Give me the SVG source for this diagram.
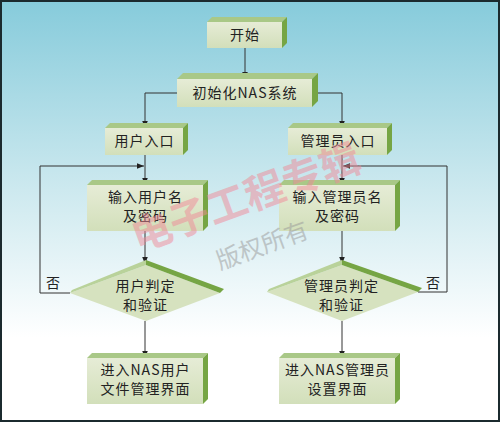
<svg xmlns="http://www.w3.org/2000/svg" width="500" height="422" viewBox="0 0 500 422">
<defs>
<linearGradient id="bg" x1="0" y1="0" x2="0" y2="1">
<stop offset="0" stop-color="#86cbdb"/>
<stop offset="0.45" stop-color="#cde9ef"/>
<stop offset="0.8" stop-color="#ffffff"/>
</linearGradient>
<linearGradient id="front" x1="0" y1="0" x2="0" y2="1">
<stop offset="0" stop-color="#e6ecd6"/>
<stop offset="1" stop-color="#d2dfba"/>
</linearGradient>
<marker id="ah" viewBox="0 0 10 10" refX="10" refY="5" markerWidth="7" markerHeight="7" orient="auto" markerUnits="userSpaceOnUse">
<path d="M0,1 L10,5 L0,9 z" fill="#222"/>
</marker>
<style>
.fr{fill:url(#front)}
.tp{fill:#a9c887}
.sd{fill:#76a544}
.dk{fill:#76a544}
.lt{fill:#b9d29a}
.t{font-family:"Noto Sans CJK SC","Noto Sans",sans-serif;font-size:14px;letter-spacing:1px;fill:#222;text-anchor:middle}
.c{fill:none;stroke:#333;stroke-width:1}
.wm{font-family:"Noto Sans CJK SC",sans-serif;font-weight:bold;font-size:40px;fill:#f08a98;opacity:0.5}
.wm2{font-family:"Noto Sans CJK SC",sans-serif;font-size:24px;fill:#999;opacity:0.5}
</style>
</defs>
<rect x="0" y="0" width="500" height="422" fill="url(#bg)"/>
<g id="connectors">
<path class="c" d="M245,48 V79" marker-end="url(#ah)"/>
<path class="c" d="M177,93 H145 V128" marker-end="url(#ah)"/>
<path class="c" d="M312,93 H342 V128" marker-end="url(#ah)"/>
<path class="c" d="M145,155 V185" marker-end="url(#ah)"/>
<path class="c" d="M342,155 V185" marker-end="url(#ah)"/>
<path class="c" d="M145,231 V264" marker-end="url(#ah)"/>
<path class="c" d="M342,231 V264" marker-end="url(#ah)"/>
<path class="c" d="M145,321 V358" marker-end="url(#ah)"/>
<path class="c" d="M342,321 V358" marker-end="url(#ah)"/>
<path class="c" d="M70,293 H40 V166 H144" marker-end="url(#ah)"/>
<path class="c" d="M418,292 H447 V166 H343" marker-end="url(#ah)"/>
</g>
<g id="start">
<polygon class="tp" points="207,22 212,17 287,17 282,22"/>
<polygon class="sd" points="282,22 287,17 287,43 282,48"/>
<rect class="fr" x="207" y="22" width="75" height="26"/>
<text class="t" x="245" y="40">开始</text>
</g>
<g id="init">
<polygon class="tp" points="177,79 183,73 318,73 312,79"/>
<polygon class="sd" points="312,79 318,73 318,101 312,107"/>
<rect class="fr" x="177" y="79" width="135" height="28"/>
<text class="t" x="245" y="98">初始化NAS系统</text>
</g>
<g id="user-entry">
<polygon class="tp" points="105,128 110,123 188,123 183,128"/>
<polygon class="sd" points="183,128 188,123 188,150 183,155"/>
<rect class="fr" x="105" y="128" width="78" height="27"/>
<text class="t" x="144.5" y="146">用户入口</text>
</g>
<g id="admin-entry">
<polygon class="tp" points="288,128 293,123 392,123 387,128"/>
<polygon class="sd" points="387,128 392,123 392,150 387,155"/>
<rect class="fr" x="288" y="128" width="99" height="27"/>
<text class="t" x="338" y="146">管理员入口</text>
</g>
<g id="user-input">
<polygon class="tp" points="87,185 92,180 208,180 203,185"/>
<polygon class="sd" points="203,185 208,180 208,226 203,231"/>
<rect class="fr" x="87" y="185" width="116" height="46"/>
<text class="t" x="145.5" y="202">输入用户名</text>
<text class="t" x="145.5" y="221">及密码</text>
</g>
<g id="admin-input">
<polygon class="tp" points="279,185 284,180 400,180 395,185"/>
<polygon class="sd" points="395,185 400,180 400,226 395,231"/>
<rect class="fr" x="279" y="185" width="116" height="46"/>
<text class="t" x="337.5" y="202">输入管理员名</text>
<text class="t" x="337.5" y="221">及密码</text>
</g>
<g id="user-check">
<polygon points="70,293 146,265 220,293 146,321" fill="#d6e2bf"/>
<polygon class="lt" points="70,293 146,265 146,260 72,290"/>
<polygon class="dk" points="146,265 220,293 224,289 146,260"/>
<text class="t" x="145.5" y="291">用户判定</text>
<text class="t" x="145.5" y="310">和验证</text>
</g>
<g id="admin-check">
<polygon points="267,292 342,265 418,292 342,321" fill="#d6e2bf"/>
<polygon class="lt" points="267,292 342,265 342,260 269,289"/>
<polygon class="dk" points="342,265 418,292 422,288 342,260"/>
<text class="t" x="341.5" y="291">管理员判定</text>
<text class="t" x="341.5" y="310">和验证</text>
</g>
<g id="user-result">
<polygon class="tp" points="87,358 92,353 208,353 203,358"/>
<polygon class="sd" points="203,358 208,353 208,399 203,404"/>
<rect class="fr" x="87" y="358" width="116" height="46"/>
<text class="t" x="145.5" y="375">进入NAS用户</text>
<text class="t" x="145.5" y="394">文件管理界面</text>
</g>
<g id="admin-result">
<polygon class="tp" points="279,358 284,353 400,353 395,358"/>
<polygon class="sd" points="395,358 400,353 400,399 395,404"/>
<rect class="fr" x="279" y="358" width="116" height="46"/>
<text class="t" x="337.5" y="375">进入NAS管理员</text>
<text class="t" x="337.5" y="394">设置界面</text>
</g>
<text class="t" x="53.5" y="288">否</text>
<text class="t" x="433.5" y="288">否</text>
<text class="wm" transform="translate(138,252) rotate(-20)">电子工程专辑</text>
<text class="wm2" transform="translate(220,270) rotate(-20)">版权所有</text>
<rect x="1" y="1" width="498" height="420" fill="none" stroke="#1b2a2e" stroke-width="2"/>
</svg>
